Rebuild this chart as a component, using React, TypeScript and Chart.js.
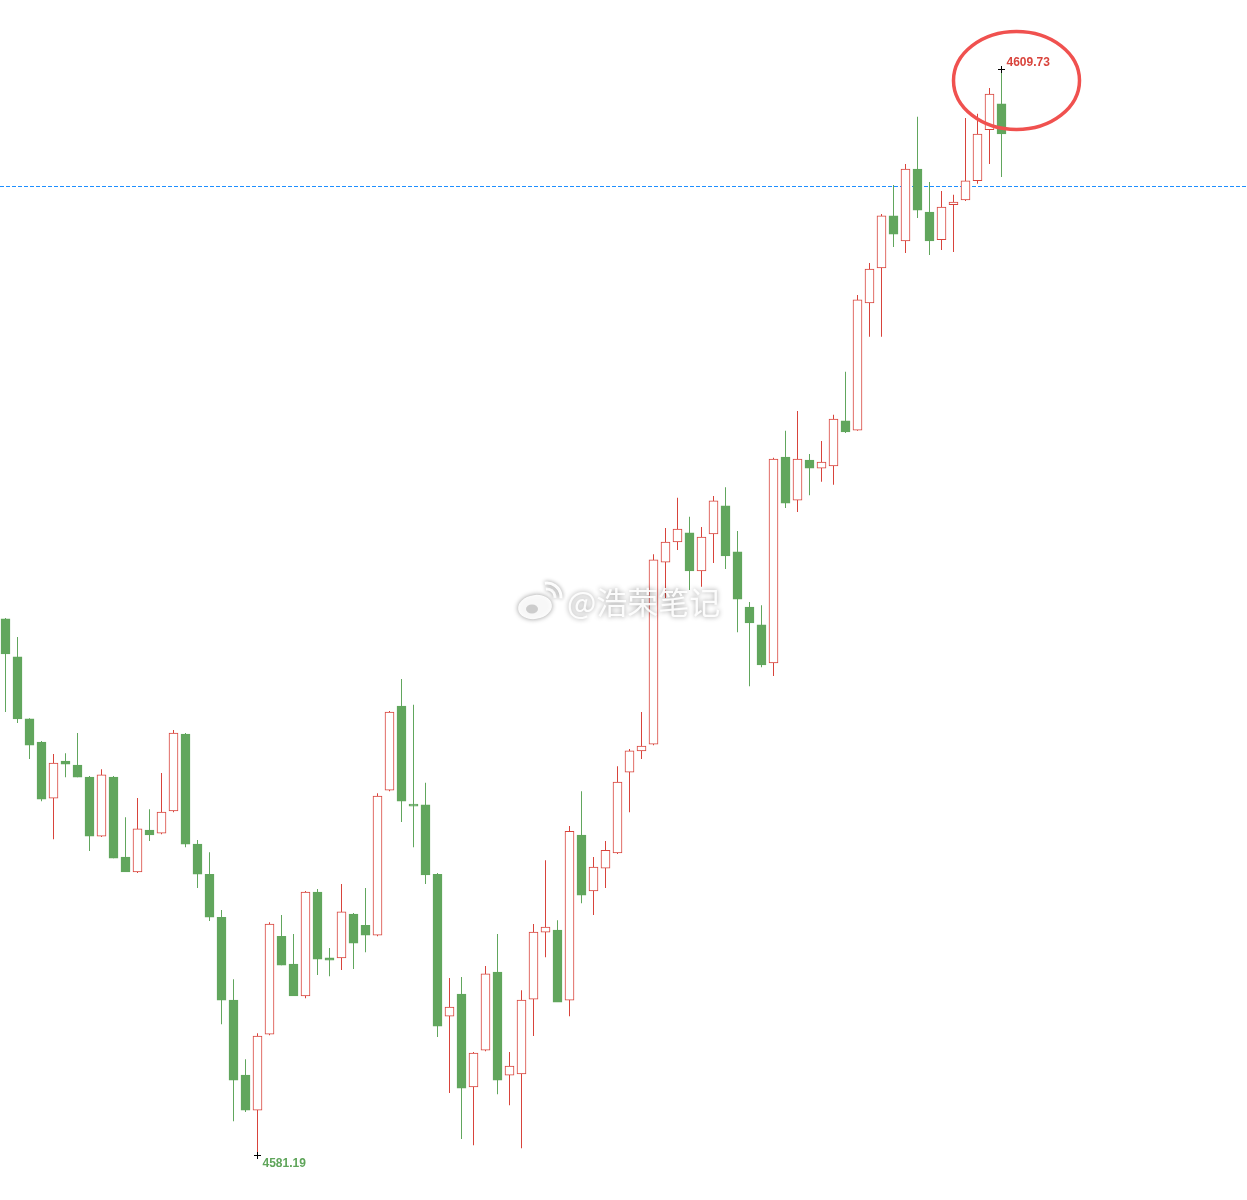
import React, { useEffect, useRef } from "react";
import { Chart, registerables } from "chart.js";

Chart.register(...registerables);

// OHLC data, one entry per candle (left to right)
const opens = [
  4595.28, 4594.28, 4592.65, 4592.04, 4590.57, 4591.54, 4591.44, 4591.12, 4589.57, 4591.12,
  4589.02, 4588.63, 4589.73, 4589.65, 4590.23, 4592.25, 4589.36, 4588.57, 4587.44, 4585.26,
  4583.29, 4582.37, 4584.37, 4586.94, 4586.21, 4585.37, 4588.10, 4586.37, 4586.37, 4587.52,
  4587.23, 4586.97, 4590.78, 4592.99, 4590.41, 4590.39, 4588.57, 4584.84, 4585.42, 4582.98,
  4583.95, 4586.00, 4583.29, 4583.32, 4585.29, 4587.05, 4587.10, 4585.26, 4589.60, 4588.13,
  4588.73, 4589.13, 4591.25, 4591.81, 4591.99, 4596.77, 4597.30, 4597.54, 4596.54, 4597.51,
  4598.25, 4597.04, 4595.59, 4595.12, 4594.12, 4599.53, 4598.40, 4599.45, 4599.24, 4599.30,
  4600.48, 4600.24, 4603.58, 4604.50, 4605.87, 4605.21, 4607.10, 4605.97, 4605.24, 4606.16,
  4606.29, 4606.79, 4608.13, 4608.81,
];
const highs = [
  4595.30, 4594.80, 4592.67, 4592.07, 4591.73, 4591.75, 4592.28, 4591.15, 4591.33, 4591.15,
  4590.07, 4590.57, 4590.28, 4591.23, 4592.36, 4592.28, 4589.47, 4589.15, 4587.63, 4585.81,
  4583.71, 4584.39, 4587.31, 4587.50, 4587.00, 4588.13, 4588.18, 4586.63, 4588.31, 4587.55,
  4588.21, 4590.70, 4592.86, 4593.70, 4593.02, 4590.97, 4588.60, 4585.84, 4585.87, 4583.90,
  4586.16, 4587.00, 4583.90, 4585.52, 4587.26, 4588.94, 4587.36, 4589.84, 4590.75, 4589.02,
  4589.44, 4591.41, 4591.86, 4592.83, 4596.98, 4597.67, 4598.46, 4597.96, 4597.69, 4598.51,
  4598.74, 4597.59, 4595.72, 4595.64, 4599.51, 4600.22, 4600.74, 4599.61, 4599.95, 4600.64,
  4601.77, 4603.79, 4604.63, 4605.92, 4606.68, 4607.23, 4608.47, 4606.76, 4606.52, 4606.42,
  4608.44, 4608.55, 4609.23, 4609.73,
];
const lows = [
  4592.83, 4592.54, 4591.60, 4590.49, 4589.49, 4591.12, 4591.12, 4589.18, 4589.55, 4588.99,
  4588.63, 4588.60, 4589.44, 4589.62, 4590.20, 4589.28, 4588.21, 4587.34, 4584.63, 4582.08,
  4582.32, 4581.19, 4584.34, 4586.18, 4585.37, 4585.31, 4585.92, 4585.89, 4586.05, 4586.08,
  4586.52, 4586.94, 4590.75, 4589.94, 4589.28, 4588.31, 4584.29, 4582.82, 4581.61, 4581.45,
  4583.92, 4582.79, 4582.50, 4581.37, 4584.32, 4586.39, 4585.21, 4584.84, 4587.81, 4587.50,
  4588.21, 4589.10, 4590.20, 4591.60, 4591.96, 4595.83, 4597.09, 4596.04, 4596.12, 4596.75,
  4596.59, 4594.93, 4593.51, 4594.01, 4593.78, 4598.19, 4598.09, 4598.53, 4598.88, 4598.80,
  4600.16, 4600.22, 4602.69, 4602.69, 4605.05, 4604.89, 4605.81, 4604.84, 4604.97, 4604.92,
  4606.26, 4606.71, 4607.23, 4606.89,
];
const closes = [
  4594.36, 4592.65, 4591.96, 4590.54, 4591.49, 4591.46, 4591.12, 4589.57, 4591.18, 4588.99,
  4588.63, 4589.76, 4589.60, 4590.20, 4592.28, 4589.36, 4588.57, 4587.44, 4585.26, 4583.16,
  4582.37, 4584.32, 4587.26, 4586.18, 4585.37, 4588.10, 4586.34, 4586.31, 4587.58, 4586.76,
  4586.97, 4590.62, 4592.83, 4590.49, 4590.36, 4588.55, 4584.58, 4585.08, 4582.95, 4583.87,
  4585.95, 4583.16, 4583.53, 4585.26, 4587.05, 4587.18, 4585.21, 4589.70, 4588.02, 4588.76,
  4589.20, 4590.99, 4591.81, 4591.94, 4596.83, 4597.30, 4597.64, 4596.54, 4597.43, 4598.38,
  4596.93, 4595.80, 4595.17, 4594.07, 4599.48, 4598.32, 4599.48, 4599.24, 4599.40, 4600.53,
  4600.19, 4603.66, 4604.47, 4605.87, 4605.39, 4607.10, 4606.02, 4605.21, 4606.10, 4606.23,
  4606.79, 4608.02, 4609.07, 4608.02,
];

const highLabel = "4609.73";
const lowLabel = "4581.19";
const refLevel = 4606.66;
const watermarkText = "@浩荣笔记";

const RED = "#d8433b";
const GREEN = "#61a65d";

export default function App() {
  const ref = useRef<HTMLCanvasElement | null>(null);

  useEffect(() => {
    const canvas = ref.current;
    if (!canvas) return;
    const idx = opens.map((_, i) => i);
    const up = idx.map((i) => closes[i] >= opens[i]);
    const bodies = idx.map((i) => ({ x: i, y: [opens[i], closes[i]] }));
    const wicks = idx.map((i) => ({ x: i, y: [lows[i], highs[i]] }));

    let hiIdx = 0;
    let loIdx = 0;
    idx.forEach((i) => {
      if (highs[i] > highs[hiIdx]) hiIdx = i;
      if (lows[i] < lows[loIdx]) loIdx = i;
    });

    const overlay = {
      id: "overlay",
      beforeDatasetsDraw(chart: any) {
        const { ctx, chartArea, scales } = chart;
        const y = Math.round(scales.y.getPixelForValue(refLevel)) + 0.5;
        ctx.save();
        ctx.strokeStyle = "#1e8fff";
        ctx.lineWidth = 1;
        ctx.setLineDash([4, 2]);
        ctx.beginPath();
        ctx.moveTo(chartArea.left, y);
        ctx.lineTo(chartArea.right, y);
        ctx.stroke();
        ctx.restore();
      },
      afterDatasetsDraw(chart: any) {
        const { ctx, scales } = chart;
        const xs = scales.x;
        const ys = scales.y;
        ctx.save();
        // cross markers
        const cross = (x: number, y: number) => {
          ctx.strokeStyle = "#000";
          ctx.lineWidth = 1;
          ctx.beginPath();
          ctx.moveTo(x - 3.5, y);
          ctx.lineTo(x + 3.5, y);
          ctx.moveTo(x, y - 3.5);
          ctx.lineTo(x, y + 3.5);
          ctx.stroke();
        };
        const hx = xs.getPixelForValue(hiIdx);
        const hy = Math.round(ys.getPixelForValue(highs[hiIdx])) + 0.5;
        const lx = xs.getPixelForValue(loIdx);
        const ly = Math.round(ys.getPixelForValue(lows[loIdx])) + 0.5;
        cross(hx, hy);
        cross(lx, ly);

        ctx.font = "bold 12px 'Liberation Sans', Arial, sans-serif";
        ctx.textAlign = "left";
        ctx.textBaseline = "middle";
        ctx.fillStyle = "#d9443c";
        ctx.fillText(highLabel, hx + 5, hy - 7);
        ctx.fillStyle = "#5fa55a";
        ctx.fillText(lowLabel, lx + 5, ly + 8);

        // red highlight ellipse around the top
        ctx.strokeStyle = "#f0514f";
        ctx.lineWidth = 3.5;
        ctx.beginPath();
        ctx.ellipse(hx + 15, hy + 11, 63, 49, 0, 0, Math.PI * 2);
        ctx.stroke();

        // watermark
        const wx = 567;
        const wy = 602;
        ctx.shadowColor = "rgba(0,0,0,0.45)";
        ctx.shadowBlur = 5;
        ctx.fillStyle = "rgba(255,255,255,0.92)";
        ctx.font = "31px 'Noto Sans CJK SC', sans-serif";
        ctx.textBaseline = "middle";
        ctx.fillText(watermarkText, wx, wy);
        // logo
        ctx.beginPath();
        ctx.ellipse(535, 607, 17, 12, -0.15, 0, Math.PI * 2);
        ctx.fill();
        ctx.shadowBlur = 0;
        ctx.fillStyle = "rgba(200,200,200,0.9)";
        ctx.beginPath();
        ctx.ellipse(532, 609, 6, 4.5, 0, 0, Math.PI * 2);
        ctx.fill();
        ctx.shadowBlur = 4;
        ctx.strokeStyle = "rgba(255,255,255,0.95)";
        ctx.lineWidth = 3;
        ctx.beginPath();
        ctx.arc(547, 597, 8, -Math.PI * 0.55, 0.1);
        ctx.stroke();
        ctx.beginPath();
        ctx.arc(547, 597, 14, -Math.PI * 0.55, 0.1);
        ctx.stroke();
        ctx.restore();
      },
    };

    const chart = new Chart(canvas, {
      type: "bar",
      data: {
        datasets: [
          {
            label: "body",
            data: bodies as any,
            order: 1,
            grouped: false,
            barThickness: 9,
            backgroundColor: idx.map((i) => (up[i] ? "#ffffff" : GREEN)),
            borderColor: idx.map((i) => (up[i] ? RED : GREEN)),
            borderWidth: 1,
            borderSkipped: false,
          } as any,
          {
            label: "wick",
            data: wicks as any,
            order: 2,
            grouped: false,
            barThickness: 1,
            backgroundColor: idx.map((i) => (up[i] ? RED : GREEN)),
            borderWidth: 0,
            inflateAmount: 0,
          } as any,
        ],
      },
      options: {
        responsive: false,
        devicePixelRatio: 1,
        animation: false,
        layout: { padding: 0 },
        plugins: { legend: { display: false }, tooltip: { enabled: false } },
        scales: {
          x: {
            type: "linear",
            display: false,
            offset: false,
            min: -5.5 / 12,
            max: (1247 - 5.5) / 12,
          },
          y: {
            type: "linear",
            display: false,
            beginAtZero: false,
            min: 4580.01,
            max: 4611.54,
          },
        },
      },
      plugins: [overlay],
    });
    return () => chart.destroy();
  }, []);

  return (
    <div style={{ position: "absolute", left: 0, top: 0, width: 1247, height: 1200, background: "#ffffff" }}>
      <canvas ref={ref} width={1247} height={1200} style={{ display: "block", width: 1247, height: 1200 }} />
    </div>
  );
}
